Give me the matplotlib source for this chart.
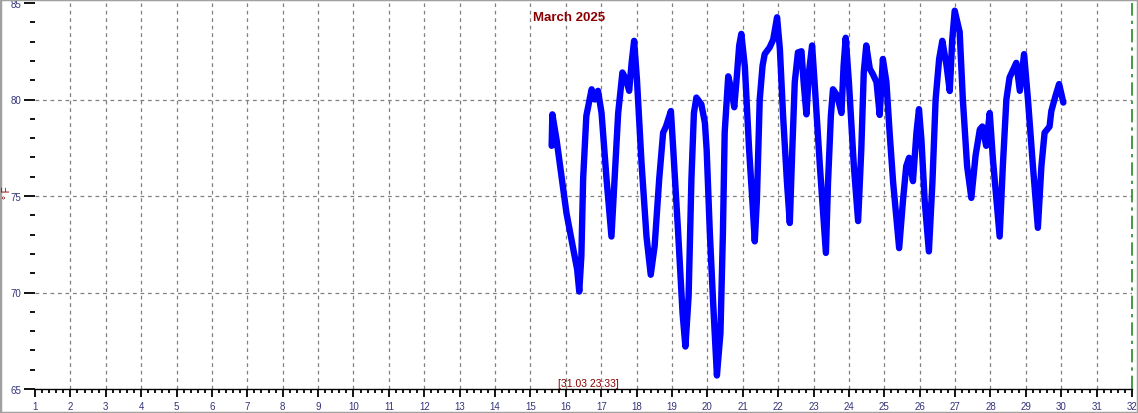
import matplotlib
matplotlib.use("Agg")
import matplotlib.pyplot as plt
from matplotlib.patches import Rectangle
from matplotlib.ticker import MultipleLocator

plt.rcParams['font.family'] = ['Liberation Sans', 'DejaVu Sans']

# Day of month (fractional) and temperature in °F
days = [15.60, 15.62, 15.69, 15.74, 16.02, 16.32, 16.38, 16.44, 16.49, 16.58,
        16.73, 16.82, 16.91, 17.01, 17.15, 17.29, 17.38, 17.48, 17.60, 17.70,
        17.79, 17.86, 17.93, 18.01, 18.14, 18.28, 18.40, 18.51, 18.64, 18.75,
        18.83, 18.97, 19.03, 19.17, 19.30, 19.38, 19.47, 19.55, 19.62, 19.69,
        19.83, 19.93, 19.98, 20.07, 20.16, 20.27, 20.37, 20.44, 20.49, 20.59,
        20.68, 20.76, 20.82, 20.90, 20.96, 21.06, 21.18, 21.27, 21.34, 21.40,
        21.48, 21.56, 21.62, 21.76, 21.86, 21.97, 22.05, 22.14, 22.25, 22.33,
        22.40, 22.47, 22.56, 22.66, 22.72, 22.80, 22.87, 22.96, 23.03, 23.18,
        23.35, 23.41, 23.49, 23.55, 23.67, 23.79, 23.85, 23.91, 24.00, 24.14,
        24.26, 24.35, 24.42, 24.49, 24.59, 24.68, 24.78, 24.87, 24.96, 25.06,
        25.15, 25.25, 25.42, 25.53, 25.62, 25.70, 25.81, 25.91, 25.98, 26.05,
        26.14, 26.26, 26.36, 26.45, 26.55, 26.64, 26.76, 26.85, 26.92, 26.99,
        27.13, 27.22, 27.34, 27.46, 27.58, 27.70, 27.77, 27.88, 27.98, 28.07,
        28.26, 28.35, 28.45, 28.54, 28.73, 28.83, 28.95, 29.06, 29.20, 29.34,
        29.44, 29.53, 29.67, 29.72, 29.84, 29.94, 30.06]
temps = [77.6, 79.23, 78.45, 77.9, 74.1, 71.2, 70.05, 71.9, 75.9, 79.15,
         80.53, 80.0, 80.45, 79.3, 75.9, 72.9, 75.9, 79.3, 81.4, 81.05,
         80.45, 81.9, 83.04, 81.05, 76.7, 72.9, 70.92, 72.4, 75.9, 78.28,
         78.6, 79.4, 77.6, 73.25, 68.9, 67.2, 69.8, 75.9, 79.3, 80.1,
         79.75, 78.8, 77.4, 73.1, 69.6, 65.7, 67.9, 73.1, 78.3, 81.2,
         80.5, 79.6, 80.9, 82.8, 83.4, 81.7, 77.4, 74.8, 72.65, 74.8,
         80.0, 81.75, 82.35, 82.7, 83.1, 84.26, 82.6, 79.15, 75.7, 73.6,
         77.4, 80.9, 82.44, 82.5, 80.9, 79.23, 81.4, 82.8, 80.9, 76.55,
         72.05, 75.7, 79.15, 80.53, 80.2, 79.3, 81.75, 83.2, 80.9, 76.55,
         73.7, 77.4, 81.4, 82.8, 81.6, 81.3, 80.9, 79.2, 82.1, 80.9,
         78.3, 75.7, 72.3, 74.8, 76.55, 76.98, 75.77, 78.3, 79.5, 77.9,
         74.8, 72.13, 75.7, 80.0, 82.1, 83.04, 81.75, 80.44, 83.1, 84.6,
         83.5, 80.0, 76.55, 74.9, 77.1, 78.45, 78.6, 77.6, 79.3, 76.9,
         72.9, 76.55, 80.0, 81.14, 81.9, 80.45, 82.35, 80.0, 76.55, 73.35,
         76.55, 78.28, 78.6, 79.4, 80.2, 80.8, 79.84]

title = "March 2025"
stamp = "[31.03 23:33]"
ylabel = "° F"
x_ticks = list(range(1, 33))
y_ticks = [65, 70, 75, 80, 85]
y_grid = [70, 75, 80]

W, H = 1138, 414
fig = plt.figure(figsize=(W / 100, H / 100), dpi=100)
fig.patch.set_facecolor('white')
ax = fig.add_axes([35 / W, 1 - 390 / H, (1132 - 35) / W, (390 - 4) / H])

ax.set_xlim(1, 32)
ax.set_ylim(65, 85)

for s in ['top', 'right', 'left']:
    ax.spines[s].set_visible(False)
ax.spines['bottom'].set_color('black')
ax.spines['bottom'].set_linewidth(1.0)

label_color = '#33337a'
ax.set_xticks(x_ticks)
ax.set_yticks(y_ticks)
ax.xaxis.set_minor_locator(MultipleLocator(0.2))
ax.yaxis.set_minor_locator(MultipleLocator(1))
ax.tick_params(axis='x', which='major', direction='out', length=6, width=1.3,
               color='black', labelsize=7, labelcolor=label_color, pad=3)
ax.tick_params(axis='x', which='minor', direction='out', length=3, width=1.3,
               color='black')
ax.tick_params(axis='y', which='major', direction='out', length=8, width=1.3,
               color='black', labelsize=7, labelcolor=label_color, pad=2)
ax.tick_params(axis='y', which='minor', direction='out', length=3.5, width=1.3,
               color='black')

grid_kw = dict(color='#808080', linewidth=0.9, linestyle=(0, (3, 3)), zorder=1)
for d in x_ticks[1:-1]:
    ax.axvline(d, **grid_kw)
for v in y_grid:
    ax.axhline(v, **grid_kw)
ax.axvline(32, color='#228B22', linewidth=1.2, linestyle=(0, (8, 3, 2, 3)),
           zorder=1, clip_on=False)

ax.plot(days, temps, color='#0000ff', linewidth=4.6, solid_joinstyle='round',
        solid_capstyle='round', zorder=3)

ax.text(0.487, 0.963, title, transform=ax.transAxes, ha='center', va='center',
        color='#8b0000', fontsize=9.5, fontweight='bold')
ax.text(0.5045, 0.016, stamp, transform=ax.transAxes, ha='center', va='center',
        color='#8b0000', fontsize=7.5)
fig.text(6.5 / W, 1 - 193 / H, ylabel, rotation=90, ha='center', va='center',
         color='#8b0000', fontsize=7)

fig.add_artist(Rectangle((0, 0), 1, 1, transform=fig.transFigure, fill=False,
                         edgecolor='#a0a0a0', linewidth=2.5))

fig.savefig('out.png', dpi=100)
